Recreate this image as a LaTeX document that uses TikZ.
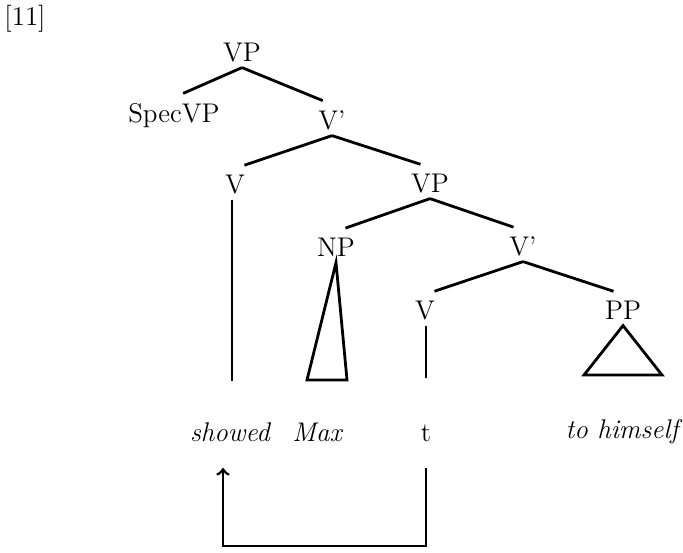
\documentclass[tikz,border=0pt]{standalone}
\usepackage{tikz}
\usetikzlibrary{arrows}
\usetikzlibrary{calc}
\tikzstyle{cat}=[inner sep=3pt,text height=9.2pt,text depth=0pt,font=\fontsize{13.5}{16}\selectfont]
\tikzstyle{word}=[inner sep=3pt,font=\fontsize{13.5}{16}\selectfont\itshape]
\tikzstyle{branch}=[line width=1.4pt,shorten >=5pt]

\begin{document}
\begin{tikzpicture}[x=0.5pt,y=-0.5pt]

\useasboundingbox (0,0) rectangle (683,552);

%labels
    \node[cat] (ex) at (25,16) {[11]};
    \foreach \pos/\name/\text in {{(242,52)/vp/VP}, {(174,113)/spec/SpecVP}, {(332,120)/vbar/V'}, {(235,184)/v/V}, {(430,183)/vpb/VP}, {(336,247)/np/NP}, {(523,246)/vbarb/V'}, {(425,310)/vb/V}, {(623,310)/pp/PP}}
        \node[cat] (\name) at \pos {\text};

    \node[word] (showed) at (230,432) {showed};
    \node[word] (max) at (317,432) {Max};
    \node[cat] (t) at (426,432) {t};
    \node[word] (himself) at (622,432) {to himself};

%branches
    \foreach \source/\dest in {vp/spec, vp/vbar, vbar/v, vbar/vpb, vpb/np, vpb/vbarb, vbarb/vb, vbarb/pp}
        \draw[branch] (\source.south) -- (\dest.north);

    \coordinate (vfoot) at (232,381);
    \coordinate (vbfoot) at (426,378);
    \draw[line width=1.4pt] (v.south -| vfoot) -- (vfoot);
    \draw[line width=1.4pt] (vb.south -| vbfoot) -- (vbfoot);

%triangles
    \draw[line width=1.4pt] (np.south) -- (307,380) -- (347,380) -- cycle;
    \draw[line width=1.4pt] (pp.south) -- (584,375) -- (662,375) -- cycle;

%movement
    \coordinate (low) at (223,546);
    \coordinate (tip) at (223,468);
    \draw[->,line width=1.4pt] ($(t.south)+(0,20)$) -- (t.south |- low) -- (low) -- (tip);

\end{tikzpicture}
\end{document}
